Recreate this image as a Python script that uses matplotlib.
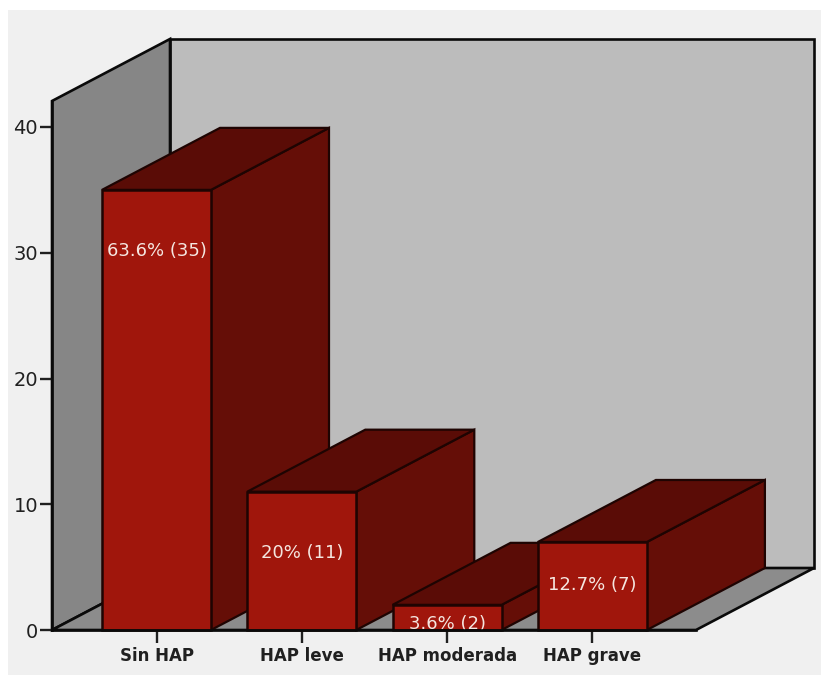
import matplotlib
matplotlib.use("Agg")
import matplotlib.pyplot as plt
from matplotlib.patches import Polygon, Rectangle

categories = ["Sin HAP", "HAP leve", "HAP moderada", "HAP grave"]
counts = [35, 11, 2, 7]
percent_labels = ["63.6% (35)", "20% (11)", "3.6% (2)", "12.7% (7)"]
y_ticks = [0, 10, 20, 30, 40]

W, H = 821, 675
PANEL = "#f0f0f0"
BACK_WALL = "#bcbcbc"
SIDE_WALL = "#868686"
FLOOR = "#8c8c8c"
BAR_FRONT = "#a0160c"
BAR_TOP = "#5a0c06"
BAR_SIDE = "#650e07"
EDGE = "#0a0a0a"
BAR_EDGE = "#1e0402"

fig = plt.figure(figsize=(W / 100, H / 100), dpi=100, facecolor="white")
fig.add_artist(Rectangle((8 / W, 0), 1, 1 - 10 / H, transform=fig.transFigure,
                         facecolor=PANEL, edgecolor="none", zorder=-1))

# Plot box in pixel terms: left 52, right 696, baseline 630, top 101
ax = fig.add_axes([52 / W, 1 - 630 / H, (696 - 52) / W, (630 - 101) / H])
ax.set_facecolor("none")
x_step = 145.3
y_step = 503 / 40
ax.set_xlim(-104.5 / x_step, (696 - 156.5) / x_step)
ax.set_ylim(0, 529 / y_step)

# Extrusion vector for the 3-D look
dx = 118 / x_step
dy = 62 / y_step
half = 54.5 / x_step
x0, x1 = ax.get_xlim()
y1 = ax.get_ylim()[1]


def face(points, color, edge=EDGE, lw=1.9, z=1):
    ax.add_patch(Polygon(points, closed=True, facecolor=color, edgecolor=edge,
                         linewidth=lw, joinstyle="miter", clip_on=False, zorder=z))


# Room: back wall, left wall, floor
face([(x0 + dx, dy), (x1 + dx, dy), (x1 + dx, y1 + dy), (x0 + dx, y1 + dy)], BACK_WALL)
face([(x0, 0), (x0 + dx, dy), (x0 + dx, y1 + dy), (x0, y1)], SIDE_WALL)
face([(x0, 0), (x1, 0), (x1 + dx, dy), (x0 + dx, dy)], FLOOR)

# Bars, left to right so that nearer fronts cover neighbouring side faces
for i, v in enumerate(counts):
    z = 2 + i
    l, r = i - half, i + half
    face([(r, 0), (r + dx, dy), (r + dx, v + dy), (r, v)], BAR_SIDE, BAR_EDGE, 1.6, z)
    face([(l, v), (r, v), (r + dx, v + dy), (l + dx, v + dy)], BAR_TOP, BAR_EDGE, 1.6, z)
    face([(l, 0), (r, 0), (r, v), (l, v)], BAR_FRONT, BAR_EDGE, 1.8, z)

# Percentage labels sit at fixed heights inside each front face
label_heights = [30.1, 6.1, 0.5, 3.6]
for i, (txt, h) in enumerate(zip(percent_labels, label_heights)):
    ax.text(i, h, txt, ha="center", va="center", color="#f5e6e0", fontsize=13,
            zorder=10, family="DejaVu Sans")

for side in ("top", "right"):
    ax.spines[side].set_visible(False)
for side in ("left", "bottom"):
    ax.spines[side].set_linewidth(1.9)
    ax.spines[side].set_color(EDGE)
    ax.spines[side].set_zorder(20)

ax.set_xticks(range(len(categories)))
ax.set_xticklabels(categories, fontsize=12, fontweight="bold", color="#202020")
ax.set_yticks(y_ticks)
ax.set_yticklabels([str(t) for t in y_ticks], fontsize=14, color="#202020")
ax.tick_params(axis="x", length=9, width=1.7, pad=3, color="#202020")
ax.tick_params(axis="y", length=9, width=1.7, pad=1, color="#202020")

fig.savefig("out.png", dpi=100)
